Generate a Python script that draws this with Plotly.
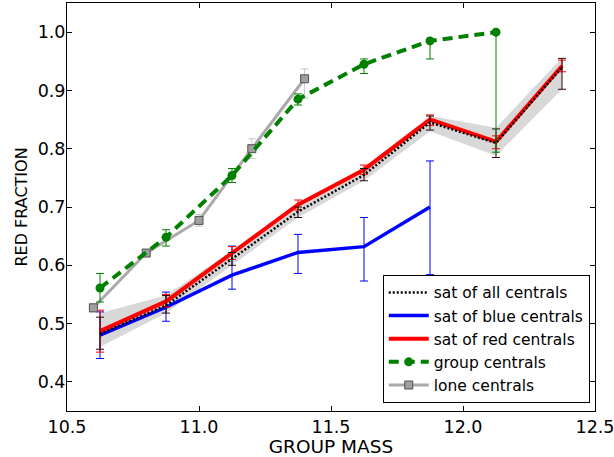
import plotly.graph_objects as go

# ---- data ----
mass = [10.625, 10.875, 11.125, 11.375, 11.625, 11.875, 12.125, 12.375]

all_frac = [0.482, 0.531, 0.611, 0.692, 0.755, 0.845, 0.810, 0.940]
all_band_lo = [0.460, 0.518, 0.600, 0.682, 0.745, 0.830, 0.788, 0.902]
all_band_hi = [0.518, 0.548, 0.625, 0.702, 0.768, 0.856, 0.836, 0.956]
all_err_lo = [0.456, 0.518, 0.600, 0.682, 0.745, 0.832, 0.785, 0.902]
all_err_hi = [0.511, 0.548, 0.622, 0.700, 0.766, 0.856, 0.834, 0.955]

red_frac = [0.487, 0.538, 0.621, 0.704, 0.764, 0.850, 0.812, 0.942]
red_err_lo = [0.451, 0.528, 0.610, 0.695, 0.756, 0.840, 0.800, 0.932]
red_err_hi = [0.523, 0.550, 0.632, 0.712, 0.772, 0.858, 0.822, 0.952]

blue_mass = [10.625, 10.875, 11.125, 11.375, 11.625, 11.875]
blue_frac = [0.480, 0.528, 0.583, 0.622, 0.632, 0.700]
blue_err_lo = [0.440, 0.504, 0.559, 0.586, 0.573, 0.584]
blue_err_hi = [0.520, 0.554, 0.633, 0.653, 0.682, 0.779]

group_frac = [0.561, 0.648, 0.754, 0.885, 0.945, 0.985, 1.000]
group_err_lo = [0.537, 0.633, 0.742, 0.875, 0.929, 0.954, 0.794]
group_err_hi = [0.586, 0.661, 0.766, 0.894, 0.954, 0.988, 1.000]

lone_mass = [10.6, 10.8, 11.0, 11.2, 11.4]
lone_frac = [0.527, 0.621, 0.677, 0.800, 0.920]
lone_err_lo = [0.520, 0.615, 0.667, 0.783, 0.887]
lone_err_hi = [0.534, 0.627, 0.687, 0.817, 0.937]

x_ticks = [10.5, 11.0, 11.5, 12.0, 12.5]
y_ticks = [0.4, 0.5, 0.6, 0.7, 0.8, 0.9, 1.0]

FONT = "DejaVu Sans"


def errs(v, lo, hi):
    return dict(type="data", symmetric=False,
                array=[h - a for a, h in zip(v, hi)],
                arrayminus=[a - l for a, l in zip(v, lo)])


fig = go.Figure()

# grey band
fig.add_trace(go.Scatter(x=mass + mass[::-1], y=all_band_hi + all_band_lo[::-1],
                         mode="lines", fill="toself", fillcolor="rgba(190,190,190,0.6)",
                         line=dict(width=0), hoverinfo="skip", showlegend=False))

# blue
e = errs(blue_frac, blue_err_lo, blue_err_hi)
e.update(color="blue", thickness=1, width=4)
fig.add_trace(go.Scatter(x=blue_mass, y=blue_frac, mode="lines", name="sat of blue centrals",
                         line=dict(color="blue", width=3.5), error_y=e, legendrank=2))

# red
e = errs(red_frac, red_err_lo, red_err_hi)
e.update(color="red", thickness=1, width=4)
fig.add_trace(go.Scatter(x=mass, y=red_frac, mode="lines", name="sat of red centrals",
                         line=dict(color="red", width=4), error_y=e, legendrank=3))

# all (black dotted)
e = errs(all_frac, all_err_lo, all_err_hi)
e.update(color="#2a0808", thickness=1, width=4)
fig.add_trace(go.Scatter(x=mass, y=all_frac, mode="lines", name="sat of all centrals",
                         line=dict(color="black", width=2.5, dash="2px,2px"),
                         error_y=e, legendrank=1))

# lone centrals
e = errs(lone_frac, lone_err_lo, lone_err_hi)
e.update(color="rgb(200,200,200)", thickness=1, width=4)
fig.add_trace(go.Scatter(x=lone_mass, y=lone_frac, mode="lines+markers", name="lone centrals",
                         line=dict(color="rgb(170,170,170)", width=3),
                         marker=dict(symbol="square", size=8, color="rgb(160,160,160)",
                                     line=dict(color="rgb(80,80,80)", width=1)),
                         error_y=e, legendrank=5))

# group centrals
e = errs(group_frac, group_err_lo, group_err_hi)
e.update(color="green", thickness=1, width=4)
fig.add_trace(go.Scatter(x=mass[:7], y=group_frac, mode="lines+markers", name="group centrals",
                         line=dict(color="green", width=4, dash="10px,6px"),
                         marker=dict(symbol="circle", size=9, color="green"),
                         error_y=e, legendrank=4))

axis_common = dict(showline=True, linecolor="black", linewidth=1, mirror="ticks",
                   ticks="inside", ticklen=5, tickcolor="black", showgrid=False,
                   zeroline=False, automargin=False, ticklabeloverflow="allow",
                   tickfont=dict(family=FONT, size=17.5, color="black"))

fig.update_xaxes(range=[10.5, 12.5], tickvals=x_ticks, ticktext=[f"{v:.1f}" for v in x_ticks],
                 title=dict(text="GROUP MASS", font=dict(family=FONT, size=18.5, color="black")),
                 **axis_common)
fig.update_yaxes(range=[0.35, 1.05], tickvals=y_ticks, ticktext=[f"{v:.1f}" for v in y_ticks],
                 title=dict(text="RED FRACTION", font=dict(family=FONT, size=16, color="black"),
                            standoff=6),
                 ticklabelstandoff=-3,
                 **axis_common)

fig.update_layout(
    width=614, height=457,
    margin=dict(l=67, r=19, t=3, b=46),
    plot_bgcolor="white", paper_bgcolor="white",
    legend=dict(x=0.598, y=0.02, xanchor="left", yanchor="bottom",
                bgcolor="white", bordercolor="black", borderwidth=1,
                font=dict(family=FONT, size=15.5, color="black"),
                tracegroupgap=0, itemwidth=40),
)

fig.write_html("out.html", config={"displayModeBar": False},
               post_script="document.body.style.margin='0';document.body.style.overflow='hidden';")
